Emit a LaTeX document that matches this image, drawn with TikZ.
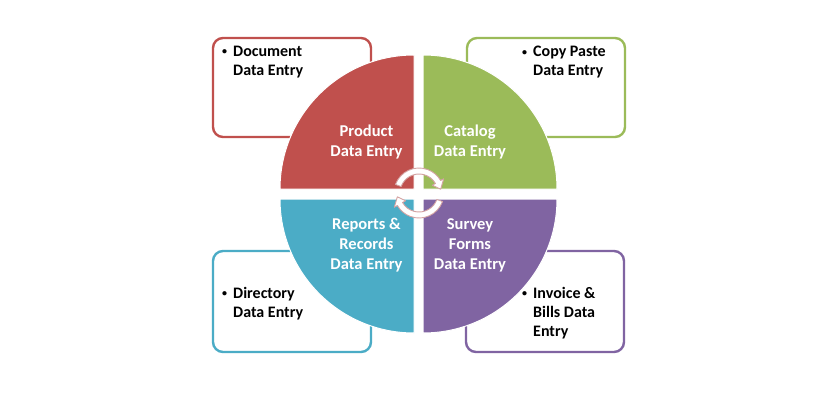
\documentclass[tikz,border=0pt]{standalone}
\usepackage{fontspec}
\setmainfont{Carlito}
\usetikzlibrary{calc}

\definecolor{qred}{HTML}{C0504D}
\definecolor{qgreen}{HTML}{9BBB59}
\definecolor{qblue}{HTML}{4BACC6}
\definecolor{qpurple}{HTML}{8064A2}
\definecolor{cycleline}{HTML}{D4A3A3}

\tikzset{
  sidebox/.style={rounded corners=10pt, line width=2.4pt, fill=white},
  quarter/.style={draw=white, line width=1pt},
  sidetext/.style={inner sep=0pt, align=left, anchor=north west,
    font=\fontsize{16}{19}\selectfont\bfseries, text=black},
  centertext/.style={inner sep=0pt, align=center,
    font=\fontsize{16.5}{20}\selectfont\bfseries, text=white},
  cyclearrow/.style={fill=white, draw=cycleline, line width=0.9pt, line join=round},
}

% small hanging bullet in front of the first line
\newcommand{\bul}{\llap{\raisebox{1.6pt}{\fontsize{10}{10}\selectfont\textbullet}\hspace{6pt}}}

\begin{document}
\begin{tikzpicture}[x=1pt, y=1pt]
  \useasboundingbox (0,0) rectangle (840,400);
  \fill[white] (0,0) rectangle (840,400);

  % outer boxes, partly hidden behind the circle
  \draw[sidebox, draw=qred]    (213,263) rectangle (371,362);
  \draw[sidebox, draw=qgreen]  (467,263) rectangle (625,362);
  \draw[sidebox, draw=qblue]   (213,48)  rectangle (371,149);
  \draw[sidebox, draw=qpurple] (466,48)  rectangle (624,149);

  % four quarters of the circle
  \filldraw[quarter, fill=qred]    (414,211) -- +(90:134)  arc[start angle=90,  end angle=180, radius=134] -- cycle;
  \filldraw[quarter, fill=qgreen]  (423,211) -- +(0:134)   arc[start angle=0,   end angle=90,  radius=134] -- cycle;
  \filldraw[quarter, fill=qblue]   (414,201) -- +(180:134) arc[start angle=180, end angle=270, radius=134] -- cycle;
  \filldraw[quarter, fill=qpurple] (423,201) -- +(270:134) arc[start angle=270, end angle=360, radius=134] -- cycle;

  % cycle arrows in the middle
  \coordinate (hub) at (419,207);
  \filldraw[cyclearrow] ($(hub)+(160:25)$) arc[start angle=160, end angle=30, radius=25]
    -- ($(hub)+(30:28.5)$) -- ($(hub)+(10:22)$) -- ($(hub)+(30:15.5)$) -- ($(hub)+(30:19)$)
    arc[start angle=30, end angle=160, radius=19] -- cycle;
  \filldraw[cyclearrow] ($(hub)+(-20:25)$) arc[start angle=-20, end angle=-150, radius=25]
    -- ($(hub)+(-150:28.5)$) -- ($(hub)+(-170:22)$) -- ($(hub)+(-150:15.5)$) -- ($(hub)+(-150:19)$)
    arc[start angle=-150, end angle=-20, radius=19] -- cycle;

  % labels inside the quarters
  \node[centertext] (product) at (366.5,257.5) {Product\\Data Entry};
  \node[centertext] (catalog) at (470,257.5) {Catalog\\Data Entry};
  \node[centertext] (reports) at (366.5,155) {Reports \&\\Records\\Data Entry};
  \node[centertext] (survey)  at (470,155) {Survey\\Forms\\Data Entry};

  % bullet text in the boxes
  \node[sidetext] (document)  at (233,354) {\bul Document\\Data Entry};
  \node[sidetext] (copypaste) at (533,354) {\bul Copy Paste\\Data Entry};
  \node[sidetext] (directory) at (233,113) {\bul Directory\\Data Entry};
  \node[sidetext] (invoice)   at (533,113) {\bul Invoice \&\\Bills Data\\Entry};
\end{tikzpicture}
\end{document}
